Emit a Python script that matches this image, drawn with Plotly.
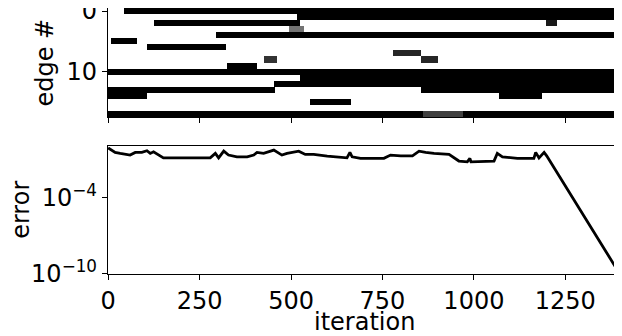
from plotly.subplots import make_subplots
import plotly.graph_objects as go
import numpy as np

# number of iterations (heatmap columns)
n_iter = 1400
n_edges = 18

# dark stretches per edge row: (first iteration, last iteration, darkness)
edge_dark = [
    [(45, 1400, 1.0)],
    [(517, 1400, 1.0)],
    [(127, 526, 1.0), (1198, 1228, 0.9)],
    [(495, 535, 0.55)],
    [(295, 1400, 1.0)],
    [(8, 78, 1.0)],
    [(108, 322, 1.0)],
    [(778, 855, 0.85)],
    [(427, 463, 0.8), (855, 903, 0.85)],
    [(325, 408, 1.0)],
    [(0, 1400, 1.0)],
    [(525, 1400, 1.0)],
    [(455, 1400, 1.0)],
    [(0, 457, 1.0), (857, 1400, 1.0)],
    [(0, 108, 1.0), (1068, 1186, 1.0)],
    [(553, 665, 1.0)],
    [],
    [(0, 862, 1.0), (862, 972, 0.75), (972, 1400, 1.0)],
]

# error curve (log10 of error)
err_iter = [0, 19, 33, 47, 60, 74, 92, 106, 115, 124, 138, 151, 279, 293, 302,
            316, 329, 352, 380, 398, 407, 425, 453, 475, 489, 521, 539, 562, 599,
            653, 661, 667, 690, 754, 772, 800, 832, 850, 868, 891, 932, 959, 982,
            989, 992, 1037, 1055, 1064, 1078, 1119, 1164, 1169, 1178, 1192, 1199,
            1399]
err_log10 = [-0.07, -0.43, -0.51, -0.56, -0.64, -0.43, -0.43, -0.30, -0.51, -0.38,
             -0.64, -0.86, -0.86, -0.51, -0.86, -0.33, -0.64, -0.78, -0.78, -0.64,
             -0.43, -0.51, -0.25, -0.64, -0.51, -0.33, -0.59, -0.59, -0.72, -0.86,
             -0.43, -0.78, -0.90, -0.90, -0.64, -0.70, -0.70, -0.33, -0.43, -0.51,
             -0.59, -1.11, -1.17, -0.90, -1.17, -1.11, -1.11, -0.51, -0.78, -0.90,
             -0.90, -0.43, -0.86, -0.43, -0.70, -10.0]

x_ticks = [0, 250, 500, 750, 1000, 1250]

# build heatmap matrix
z = np.zeros((n_edges, n_iter))
for row, segs in enumerate(edge_dark):
    for a, b, v in segs:
        z[row, a:b] = v

err = [10 ** v for v in err_log10]

font_family = "DejaVu Sans"
font_size = 24
top_dom = [0.590, 1.0]
bot_dom = [0.0, 0.482]

fig = make_subplots(rows=2, cols=1, shared_xaxes=True, vertical_spacing=0.1)

fig.add_trace(go.Heatmap(z=z, x=np.arange(n_iter), y=np.arange(n_edges),
                         colorscale=[[0, "white"], [1, "black"]], zmin=0, zmax=1,
                         showscale=False, hoverinfo="skip"), row=1, col=1)

fig.add_trace(go.Scatter(x=err_iter, y=err, mode="lines",
                         line=dict(color="black", width=2.8),
                         showlegend=False), row=2, col=1)

# page body has an 8px margin, so margins are set 8px smaller on left/top
fig.update_layout(width=622, height=336, margin=dict(l=100, r=10, t=0, b=70),
                  paper_bgcolor="white", plot_bgcolor="white",
                  font=dict(family=font_family, size=font_size, color="black"))

axis_style = dict(showline=True, linewidth=1.3, linecolor="black", mirror=True,
                  ticks="outside", ticklen=5, tickwidth=1.3, tickcolor="black",
                  showgrid=False, zeroline=False, automargin=False,
                  ticklabeloverflow="allow")

fig.update_xaxes(range=[-0.5, n_iter - 0.5], tickvals=x_ticks, **axis_style)
fig.update_xaxes(showticklabels=False, row=1, col=1)

fig.update_yaxes(**axis_style)
fig.update_yaxes(domain=top_dom, range=[n_edges - 0.5, -0.5], tickvals=[0, 10],
                 row=1, col=1)
fig.update_yaxes(domain=bot_dom, type="log", range=[-10, 0.09],
                 tickvals=[1e-10, 1e-4],
                 ticktext=["10<sup>\u221210</sup>", "10<sup>\u22124</sup>"],
                 row=2, col=1)

# axis titles
fig.add_annotation(text="edge #", textangle=-90, xref="paper", yref="paper",
                   x=-0.123, y=sum(top_dom) / 2, xanchor="center", yanchor="middle",
                   showarrow=False)
fig.add_annotation(text="error", textangle=-90, xref="paper", yref="paper",
                   x=-0.170, y=sum(bot_dom) / 2, xanchor="center", yanchor="middle",
                   showarrow=False)
fig.add_annotation(text="iteration", xref="paper", yref="paper",
                   x=0.5, y=-0.18, xanchor="center", yanchor="middle",
                   showarrow=False)

fig.write_html("out.html")
